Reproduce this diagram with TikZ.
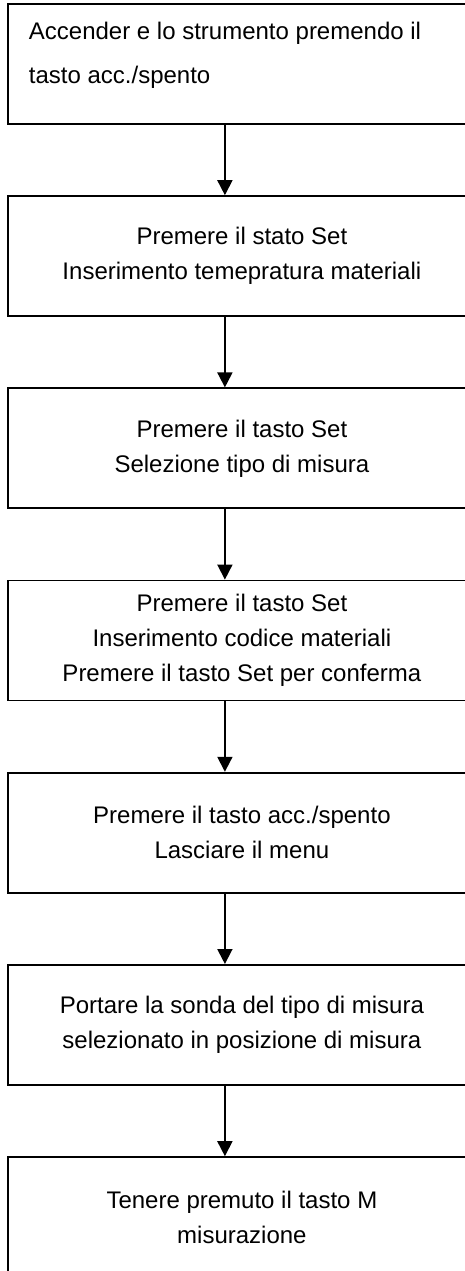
\documentclass[tikz,border=0pt]{standalone}
\usepackage{fontspec}
\setmainfont{Liberation Sans}
\usetikzlibrary{arrows.meta, positioning}
\tikzstyle{stepbox} = [rectangle, minimum width=468pt, minimum height=120pt, align=center, draw=black, line width=1.8pt, font=\fontsize{24pt}{35pt}\selectfont]
\tikzstyle{arrow} = [line width=1.8pt,-{Triangle[width=15pt,length=15pt]}]

\begin{document}
\begin{tikzpicture}[node distance=70.4pt]
\useasboundingbox (0pt,0pt) rectangle (464pt,-1271pt);
\node (acc) [stepbox, anchor=north west] at (7pt,-3pt) {\parbox[c][84pt][t]{426pt}{\baselineskip=44pt\raggedright Accender e lo strumento premendo il\\tasto acc./spento}};
\node (stato) [stepbox, below=of acc] {Premere il stato Set\\Inserimento temepratura materiali};
\node (tipo) [stepbox, below=of stato] {Premere il tasto Set\\Selezione tipo di misura};
\node (codice) [stepbox, below=of tipo] {Premere il tasto Set\\Inserimento codice materiali\\Premere il tasto Set per conferma};
\node (menu) [stepbox, below=of codice] {Premere il tasto acc./spento\\Lasciare il menu};
\node (sonda) [stepbox, below=of menu] {Portare la sonda del tipo di misura\\selezionato in posizione di misura};
\node (misura) [stepbox, below=of sonda] {Tenere premuto il tasto M\\misurazione};

\draw[arrow] ([xshift=-17pt]acc.south) -- ([xshift=-17pt]stato.north);
\draw[arrow] ([xshift=-17pt]stato.south) -- ([xshift=-17pt]tipo.north);
\draw[arrow] ([xshift=-17pt]tipo.south) -- ([xshift=-17pt]codice.north);
\draw[arrow] ([xshift=-17pt]codice.south) -- ([xshift=-17pt]menu.north);
\draw[arrow] ([xshift=-17pt]menu.south) -- ([xshift=-17pt]sonda.north);
\draw[arrow] ([xshift=-17pt]sonda.south) -- ([xshift=-17pt]misura.north);
\end{tikzpicture}
\end{document}
